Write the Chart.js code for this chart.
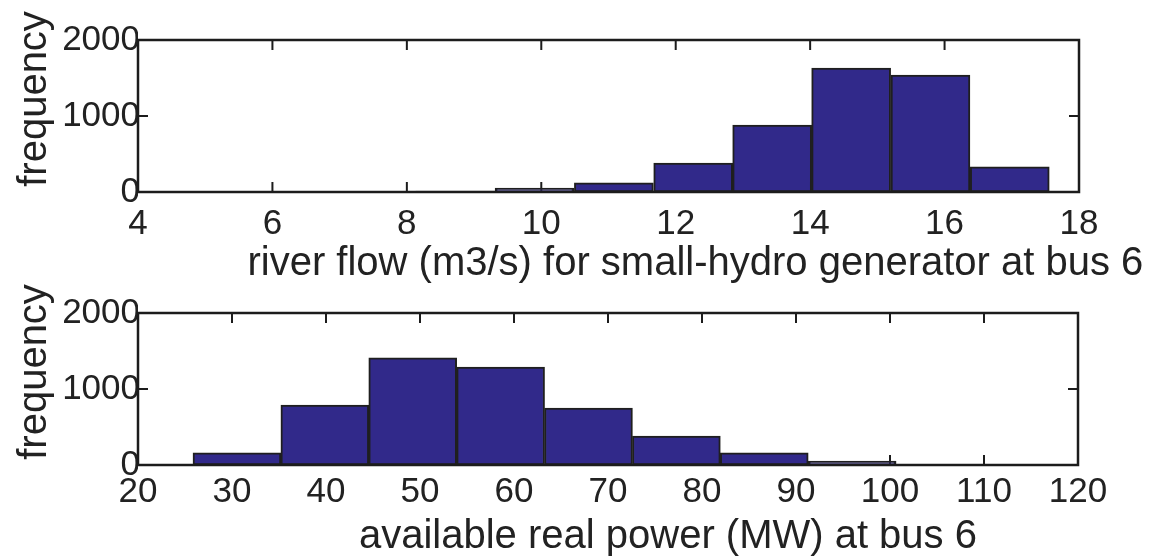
<!DOCTYPE html>
<html>
<head>
<meta charset="utf-8">
<script src="https://cdn.jsdelivr.net/npm/chart.js@4.4.0/dist/chart.umd.min.js"></script>
<style>
  html, body { margin: 0; padding: 0; background: #fff; }
  .panel { position: absolute; left: 0; width: 1153px; }
  #topPanel { top: 0; height: 300px; }
  #bottomPanel { top: 280px; height: 280px; }
</style>
</head>
<body>
<div class="panel" id="topPanel"><canvas id="riverChart"></canvas></div>
<div class="panel" id="bottomPanel"><canvas id="powerChart"></canvas></div>
<script>
// river flow histogram (top panel)
const riverEdges = [5.77, 6.95, 8.13, 9.31, 10.49, 11.67, 12.85, 14.02, 15.20, 16.38, 17.56];
const riverCounts = [3, 6, 12, 50, 120, 380, 880, 1630, 1540, 330];
const riverTicks = [4, 6, 8, 10, 12, 14, 16, 18];

// available real power histogram (bottom panel)
const powerEdges = [25.85, 35.2, 44.55, 53.9, 63.25, 72.6, 81.95, 91.3, 100.65, 110.0, 119.35];
const powerCounts = [160, 790, 1410, 1290, 750, 380, 160, 50, 8, 2];
const powerTicks = [20, 30, 40, 50, 60, 70, 80, 90, 100, 110, 120];

const freqTicks = [0, 1000, 2000];

const barFill = '#31298a';
const textColor = '#222';
const tickFont = { family: '"Liberation Sans", Arial, sans-serif', size: 35, lineHeight: 1.2 };
const labelFont = '40px "Liberation Sans", Arial, sans-serif';

// bins -> {x: centre, y: count}
function toBars(edges, counts) {
  return counts.map((c, i) => ({ x: (edges[i] + edges[i + 1]) / 2, y: c }));
}

// MATLAB style box, inward ticks and axis labels
const framePlugin = {
  id: 'frame',
  beforeDatasetsDraw(chart) {
    const { ctx, chartArea: a, scales: { x, y } } = chart;
    ctx.save();
    ctx.strokeStyle = '#1c1c1c';
    ctx.lineWidth = 2;
    ctx.beginPath();
    x.ticks.forEach(t => {
      const px = x.getPixelForValue(t.value);
      ctx.moveTo(px, a.bottom); ctx.lineTo(px, a.bottom - 10);
      ctx.moveTo(px, a.top); ctx.lineTo(px, a.top + 10);
    });
    y.ticks.forEach(t => {
      const py = y.getPixelForValue(t.value);
      ctx.moveTo(a.left, py); ctx.lineTo(a.left + 10, py);
      ctx.moveTo(a.right, py); ctx.lineTo(a.right - 10, py);
    });
    ctx.stroke();
    ctx.restore();
  },
  afterDatasetsDraw(chart) {
    const { ctx, chartArea: a } = chart;
    ctx.save();
    ctx.strokeStyle = '#1c1c1c';
    ctx.lineWidth = 2.5;
    ctx.strokeRect(a.left, a.top, a.right - a.left, a.bottom - a.top);
    ctx.restore();
  },
  afterDraw(chart, args, opts) {
    const { ctx, chartArea: a } = chart;
    ctx.save();
    ctx.font = labelFont;
    ctx.fillStyle = textColor;
    ctx.textAlign = 'left';
    ctx.textBaseline = 'alphabetic';
    // x label
    let w = ctx.measureText(opts.xTitle).width;
    const cx = (a.left + a.right) / 2;
    ctx.fillText(opts.xTitle, cx - w * 0.403, a.bottom + 83);
    // y label
    w = ctx.measureText(opts.yTitle).width;
    const cy = (a.top + a.bottom) / 2;
    ctx.translate(46, cy + w * 0.403);
    ctx.rotate(-Math.PI / 2);
    ctx.fillText(opts.yTitle, 0, 0);
    ctx.restore();
  }
};

function makeHist(id, edges, counts, xTicks, padTop, padRight, xHeight, xPad, xTitle) {
  const ctx = document.getElementById(id).getContext('2d');
  return new Chart(ctx, {
    type: 'bar',
    data: {
      datasets: [{
        data: toBars(edges, counts),
        backgroundColor: barFill,
        borderColor: '#1f1f1f',
        borderWidth: 2,
        borderSkipped: false,
        categoryPercentage: 1,
        barPercentage: 1
      }]
    },
    options: {
      responsive: true,
      maintainAspectRatio: false,
      animation: false,
      layout: { padding: { top: padTop, right: padRight, left: 0, bottom: 0 } },
      plugins: {
        legend: { display: false },
        tooltip: { enabled: false },
        frame: { xTitle: xTitle, yTitle: 'frequency' }
      },
      scales: {
        x: {
          type: 'linear',
          min: xTicks[0],
          max: xTicks[xTicks.length - 1],
          offset: false,
          grid: { display: false, drawTicks: false, offset: false },
          border: { display: false },
          afterBuildTicks: s => { s.ticks = xTicks.map(v => ({ value: v })); },
          afterFit: s => { s.height = xHeight; },
          ticks: {
            color: textColor,
            font: tickFont,
            padding: xPad,
            maxRotation: 0,
            autoSkip: false,
            callback: v => String(v)
          }
        },
        y: {
          min: 0,
          max: 2000,
          grid: { display: false, drawTicks: false },
          border: { display: false },
          afterBuildTicks: s => { s.ticks = freqTicks.map(v => ({ value: v })); },
          afterFit: s => { s.width = 138; },
          ticks: {
            color: textColor,
            font: tickFont,
            padding: -2,
            callback: v => String(v)
          }
        }
      }
    },
    plugins: [framePlugin]
  });
}

const riverChart = makeHist('riverChart', riverEdges, riverCounts, riverTicks, 40, 74, 108, 11,
  'river flow (m3/s) for small-hydro generator at bus 6');
const powerChart = makeHist('powerChart', powerEdges, powerCounts, powerTicks, 33, 75, 95, 6,
  'available real power (MW) at bus 6');
</script>
</body>
</html>
